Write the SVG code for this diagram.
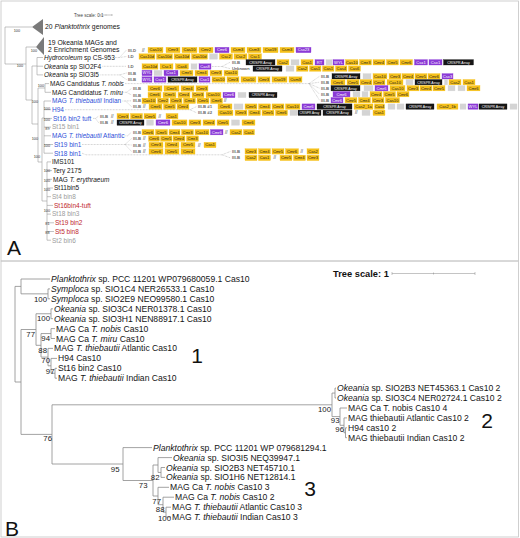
<svg xmlns="http://www.w3.org/2000/svg" width="520" height="538" viewBox="0 0 520 538">
<style>
text{font-family:"Liberation Sans",Arial,sans-serif}
.fr{fill:none;stroke:#c4c4c4;stroke-width:0.8}
.tr{fill:none;stroke:#9a9a9a;stroke-width:0.6}
.tb{fill:none;stroke:#8c8c8c;stroke-width:0.8}
.dt{fill:none;stroke:#9a9a9a;stroke-width:0.5;stroke-dasharray:0.8 0.7}
.sc{fill:none;stroke:#888;stroke-width:0.5}
.tri{fill:#7a7a7a}
.la{font-size:6.5px;fill:#151515}
.bl{fill:#2e4fd8}
.rd{fill:#c0272d}
.gr{fill:#9b9b9b}
.it{font-style:italic}
.bs{font-size:3.8px;fill:#333;text-anchor:end}
.y{fill:#f5c01a;stroke:#f5c01a;stroke-width:0.3}
.p{fill:#8b3ad6;stroke:#8b3ad6;stroke-width:0.3}
.k{fill:#161616;stroke:#161616;stroke-width:0.3}
.g{fill:#d4d4d4;stroke:#d4d4d4;stroke-width:0.3}
.gt{font-size:4.1px;fill:#1a1a1a;text-anchor:middle}
.wt{font-size:4.1px;fill:#fff;text-anchor:middle}
.ct{font-size:3.5px;fill:#fff;text-anchor:middle}
.cs{font-size:3.1px;fill:#fff;text-anchor:middle}
.tg{font-size:4.3px;fill:#6a6a6a;font-weight:bold}
.sl{font-size:4.5px;fill:#333}
.lb{font-size:8.6px;fill:#151515}
.bb{font-size:7.8px;fill:#222;text-anchor:end}
.big{font-size:21px;fill:#111}
</style>
<rect width="520" height="538" fill="#fff"/>
<rect class="fr" x="1" y="1" width="517.5" height="260"/>
<rect class="fr" x="1" y="261" width="517.5" height="276"/>

<g id="connectors">
<path class="tr" d="M5,27H32M5,27V64H26M26,47V100M26,47H36M26,100H32M32,66V124M32,66H37M37,57.5V74.9M37,57.5H43M37,66.2H43M37,74.9H43M32,124H38M38,88V162M38,88H45M45,83.6V92.3M45,83.6H49M45,92.3H51M38,162H42M42,118V201M42,118H44M44,101V153.2M44,101H51M44,109.7H51M44,118.4H52M44,127.1H51M44,135.8H51M44,144.5H53M44,153.2H53M42,201H47M47,161.9V240.2M47,161.9H51M47,170.6H52M47,179.3H52M47,188H53M47,196.7H51M47,205.4H53M47,214.1H51M47,222.8H54M47,231.5H54M47,240.2H51"/>
<path class="dt" d="M115,57.5H119.5L126.5,50M119.5,57.5L126.5,56.5M102.5,66.3H126.5M212,66.5H222L230,62.3M222,66.5L230,68.6M100.5,74.9H119.5L126.5,73M119.5,74.9L126.5,79.5M125,83.6H309L319.5,76.3M309,83.6L319.5,82.2M309,83.6L319.5,88.2M309,83.6L319.5,94.2M309,83.6L319.5,100.2M123.5,92.3H126.5L131.5,88.5M126.5,92.3L131.5,95M122.5,101H125.5L131.5,100.8M125.5,101L131.5,106.6M65,109.7H190L196.5,106.6M190,109.7L196.5,112.8M93,118.4H95.5L98.5,116.2M95.5,118.4L98.5,122.6M125.5,135.8H127.5L131.5,132.2M82,144.5H125L131.5,138.6M125,144.5L131.5,145M125,144.5L131.5,151.4M82,153.2L86,154.8H222L230.5,151.4M222,154.8L230.5,157.9"/>
<path class="tb" d="M15,286.4V382M15,286.4H21M21,279V293.85M21,279H50M21,293.85H48M48,288.9V298.8M48,288.9H50M48,298.8H50M15,382H21M21,329.5V434.4M21,329.5H36M36,313.75V345.3M36,313.75H51M51,308.8V318.7M51,308.8H53M51,318.7H53M36,345.3H41M41,333.55V357.1M41,333.55H51M51,328.6V338.5M51,328.6H55M51,338.5H55M41,357.1H48M48,348.4V365.8M48,348.4H53M48,365.8H51M51,358.4V373.25M51,358.4H57M51,373.25H55M55,368.3V378.2M55,368.3H57M55,378.2H57M21,434.4H52M52,404.8V464M52,404.8H332M332,393.05V416.6M332,393.05H335M335,388.1V398M335,388.1H336M335,398H336M332,416.6H340M340,408V425.3M340,408H347M340,425.3H344M344,417.9V432.75M344,417.9H347M344,432.75H345.5M345.5,427.8V437.7M345.5,427.8H347M345.5,437.7H347M52,464H123M123,447.6V480.5M123,447.6H152M123,480.5H153M153,465V496M153,465H158M158,457.6V472.45M158,457.6H172M158,472.45H161M161,467.5V477.4M161,467.5H165M161,477.4H165M153,496H158M158,487.3V504.7M158,487.3H169M158,504.7H163M163,497.2V512.15M163,497.2H174M163,512.15H166M166,507.2V517.1M166,507.2H171M166,517.1H171"/>
</g>

<g id="panel-a-scale">
<text x="74" y="16.5" style="font-size:4.5px;fill:#444">Tree scale: 0.1</text>
<path class="sc" d="M100,15H112M100,14V16M106,14.5V15.5M112,14V16"/>
</g>
<g id="bootstrap-a">
<text class="bs" x="20" y="31.5">100</text><text class="bs" x="37" y="51.5">100</text><text class="bs" x="23" y="67">100</text><text class="bs" x="44" y="87">100</text><text class="bs" x="38" y="102.5">100</text><text class="bs" x="50" y="109.5">100</text><text class="bs" x="50" y="120.5">100</text><text class="bs" x="49.5" y="129.5">89</text><text class="bs" x="38" y="139.5">100</text><text class="bs" x="50" y="146.5">100</text><text class="bs" x="40" y="157.5">100</text><text class="bs" x="50" y="171.5">100</text><text class="bs" x="50" y="181.5">100</text><text class="bs" x="50" y="190.5">100</text><text class="bs" x="50" y="211.5">100</text><text class="bs" x="49.5" y="224.5">81</text><text class="bs" x="49.5" y="233.5">88</text>
</g>

<g id="n-planktothrix-genomes"><polygon class="tri" points="32,27 43,19 43,35"/><text class="la" x="45" y="29.3" style="font-size:6.8px">20 <tspan class="it">Planktothrix</tspan> genomes</text></g>
<g id="n-okeania-mags"><polygon class="tri" points="36,47 44,37 44,55"/><text class="la" x="48" y="45.3" style="font-size:6.8px">19 Okeania MAGs and</text><text class="la" x="48" y="51.8" style="font-size:6.8px">2 Enrichment Genomes</text></g>

<g id="n-hydrocoleum">
<text class="la" x="44" y="59.8"><tspan class="it">Hydrocoleum</tspan> sp CS-953</text>
<text class="tg" x="128" y="51.5">III-D</text><text class="sl" x="142" y="51.5">//</text>
<rect class="y" x="148" y="47.3" width="15" height="5.4"/><text class="gt" x="155.5" y="51.4">Cas10</text>
<rect class="y" x="166" y="47.3" width="14" height="5.4"/><text class="gt" x="173" y="51.4">Cmr3</text>
<rect class="y" x="182" y="47.3" width="15" height="5.4"/><text class="gt" x="189.5" y="51.4">Cas10</text>
<rect class="y" x="199" y="47.3" width="14" height="5.4"/><text class="gt" x="206" y="51.4">Cmr2</text>
<rect class="p" x="215" y="47.3" width="14" height="5.4"/><text class="wt" x="222" y="51.4">Cmr6</text>
<rect class="y" x="231" y="47.3" width="14" height="5.4"/><text class="gt" x="238" y="51.4">Csm3</text>
<rect class="y" x="247" y="47.3" width="14" height="5.4"/><text class="gt" x="254" y="51.4">Csm3</text>
<rect class="y" x="263" y="47.3" width="15" height="5.4"/><text class="gt" x="270.5" y="51.4">Csx19</text>
<rect class="y" x="280" y="47.3" width="14" height="5.4"/><text class="gt" x="287" y="51.4">Csm3</text>
<rect class="p" x="296" y="47.3" width="15" height="5.4"/><text class="wt" x="303.5" y="51.4">Csx23</text>
<text class="tg" x="128" y="58">I-D</text>
<rect class="y" x="139" y="53.8" width="16" height="5.4"/><text class="gt" x="147" y="57.9">Cas10d</text>
<rect class="y" x="156.5" y="53.8" width="16" height="5.4"/><text class="gt" x="164.5" y="57.9">Cas10d</text>
<rect class="y" x="174" y="53.8" width="16" height="5.4"/><text class="gt" x="182" y="57.9">Cas10d</text>
<rect class="y" x="191.5" y="53.8" width="16" height="5.4"/><text class="gt" x="199.5" y="57.9">Cas10d</text>
<rect class="g" x="209.5" y="53.8" width="8" height="5.4"/>
<rect class="y" x="219.5" y="53.8" width="13" height="5.4"/><text class="gt" x="226" y="57.9">Csc2</text>
<rect class="y" x="234" y="53.8" width="13" height="5.4"/><text class="gt" x="240.5" y="57.9">Csc2</text>
<rect class="y" x="248.5" y="53.8" width="13" height="5.4"/><text class="gt" x="255" y="57.9">Csc1</text>
</g>

<g id="n-okeania-sio2f4">
<text class="la" x="44" y="68.5"><tspan class="it">Okeania</tspan> sp SIO2F4</text>
<text class="tg" x="128" y="68">I-D</text>
<rect class="y" x="142" y="63.8" width="16" height="5.4"/><text class="gt" x="150" y="67.9">Cas10d</text>
<rect class="y" x="160" y="63.8" width="13" height="5.4"/><text class="gt" x="166.5" y="67.9">Csc1</text>
<rect class="y" x="175.5" y="63.8" width="13" height="5.4"/><text class="gt" x="182" y="67.9">Cas6</text>
<rect class="g" x="191" y="63.8" width="6" height="5.4"/>
<rect class="p" x="199" y="63.8" width="12" height="5.4"/><text class="wt" x="205" y="67.9">Cas8</text>
<text class="tg" x="232" y="63.8">III-B</text>
<rect class="k" x="246" y="59.6" width="29" height="5.4"/><text class="ct" x="260.5" y="63.6">CRISPR Array</text>
<rect class="y" x="277" y="59.6" width="12" height="5.4"/><text class="gt" x="283" y="63.7">Cas2</text>
<rect class="g" x="291" y="59.6" width="8" height="5.4"/>
<rect class="y" x="301" y="59.6" width="12" height="5.4"/><text class="gt" x="307" y="63.7">Cas1</text>
<rect class="p" x="315" y="59.6" width="9" height="5.4"/><text class="wt" x="319.5" y="63.7">RT</text>
<rect class="g" x="326" y="59.6" width="6" height="5.4"/>
<rect class="p" x="333" y="59.6" width="11" height="5.4"/><text class="wt" x="338.5" y="63.7">WYL</text>
<rect class="y" x="345.5" y="59.6" width="12.5" height="5.4"/><text class="gt" x="351.75" y="63.7">Cas10</text>
<rect class="y" x="359.5" y="59.6" width="12" height="5.4"/><text class="gt" x="365.5" y="63.7">Cmr3</text>
<rect class="y" x="373" y="59.6" width="12" height="5.4"/><text class="gt" x="379" y="63.7">Cmr4</text>
<rect class="y" x="386.5" y="59.6" width="12" height="5.4"/><text class="gt" x="392.5" y="63.7">Cmr5</text>
<rect class="y" x="400" y="59.6" width="12.5" height="5.4"/><text class="gt" x="406.25" y="63.7">Cmr6</text>
<rect class="p" x="414.5" y="59.6" width="13" height="5.4"/><text class="wt" x="421" y="63.7">Csx1</text>
<rect class="p" x="429" y="59.6" width="13" height="5.4"/><text class="wt" x="435.5" y="63.7">Csx1</text>
<rect class="k" x="443.5" y="59.6" width="30" height="5.4"/><text class="ct" x="458.5" y="63.6">CRISPR Array</text>
<text x="232" y="70.1" style="font-size:4.2px;fill:#222">Unknown</text>
<rect class="k" x="253" y="65.9" width="29" height="5.4"/><text class="ct" x="267.5" y="69.9">CRISPR Array</text>
<rect class="g" x="286" y="65.9" width="8" height="5.4"/>
<rect class="y" x="296.5" y="65.9" width="11.5" height="5.4"/><text class="gt" x="302.25" y="70">Cas2</text>
<rect class="y" x="309.5" y="65.9" width="11.5" height="5.4"/><text class="gt" x="315.25" y="70">Cas1</text>
<rect class="y" x="322.5" y="65.9" width="11.5" height="5.4"/><text class="gt" x="328.25" y="70">Cas1</text>
<rect class="y" x="335.5" y="65.9" width="11.5" height="5.4"/><text class="gt" x="341.25" y="70">Cas4</text>
<rect class="y" x="348.5" y="65.9" width="12" height="5.4"/><text class="gt" x="354.5" y="70">Cas6</text>
</g>

<g id="n-okeania-sio3i5">
<text class="la" x="44" y="77.2"><tspan class="it">Okeania</tspan> sp SIO3I5</text>
<text class="tg" x="128" y="74.5">III-B</text>
<rect class="p" x="142" y="70.3" width="10" height="5.4"/><text class="wt" x="147" y="74.4">WYL</text>
<rect class="g" x="154" y="70.3" width="8" height="5.4"/>
<rect class="p" x="164" y="70.3" width="14" height="5.4"/><text class="wt" x="171" y="74.4">Csx1</text>
<rect class="y" x="180" y="70.3" width="13" height="5.4"/><text class="gt" x="186.5" y="74.4">Cmr5</text>
<rect class="y" x="195" y="70.3" width="13" height="5.4"/><text class="gt" x="201.5" y="74.4">Cmr4</text>
<rect class="y" x="210" y="70.3" width="12" height="5.4"/><text class="gt" x="216" y="74.4">Cmr3</text>
<rect class="y" x="224" y="70.3" width="14" height="5.4"/><text class="gt" x="231" y="74.4">Cas10</text>
<text class="tg" x="128" y="81">III-B</text>
<rect class="p" x="142" y="76.8" width="10" height="5.4"/><text class="wt" x="147" y="80.9">WYL</text>
<rect class="p" x="154" y="76.8" width="12" height="5.4"/><text class="wt" x="160" y="80.9">Csx1</text>
<rect class="k" x="168" y="76.8" width="29" height="5.4"/><text class="ct" x="182.5" y="80.8">CRISPR Array</text>
<rect class="p" x="199" y="76.8" width="11" height="5.4"/><text class="wt" x="204.5" y="80.9">Csx1</text>
<rect class="y" x="212" y="76.8" width="13" height="5.4"/><text class="gt" x="218.5" y="80.9">Cas10</text>
<rect class="y" x="227" y="76.8" width="12" height="5.4"/><text class="gt" x="233" y="80.9">Cmr3</text>
<rect class="y" x="241" y="76.8" width="15" height="5.4"/><text class="gt" x="248.5" y="80.9">Csx10</text>
<rect class="y" x="258" y="76.8" width="12" height="5.4"/><text class="gt" x="264" y="80.9">Cmr3</text>
<rect class="y" x="272" y="76.8" width="15" height="5.4"/><text class="gt" x="279.5" y="80.9">Csx19</text>
<rect class="y" x="289" y="76.8" width="13" height="5.4"/><text class="gt" x="295.5" y="80.9">Csm3</text>
</g>

<g id="n-nobis">
<text class="la" x="50" y="85.9">MAG Candidatus <tspan class="it">T. nobis</tspan></text>
<text class="tg" x="321" y="77.8">III-B</text>
<rect class="k" x="332" y="73.6" width="28" height="5.4"/><text class="ct" x="346" y="77.6">CRISPR Array</text>
<rect class="g" x="363" y="73.6" width="8" height="5.4"/>
<rect class="y" x="373" y="73.6" width="14" height="5.4"/><text class="gt" x="380" y="77.7">Cas10</text>
<rect class="y" x="389" y="73.6" width="12" height="5.4"/><text class="gt" x="395" y="77.7">Cmr3</text>
<rect class="y" x="402" y="73.6" width="12" height="5.4"/><text class="gt" x="408" y="77.7">Cmr4</text>
<rect class="y" x="415" y="73.6" width="12" height="5.4"/><text class="gt" x="421" y="77.7">Cmr5</text>
<rect class="y" x="428" y="73.6" width="12" height="5.4"/><text class="gt" x="434" y="77.7">Cmr6</text>
<rect class="p" x="442" y="73.6" width="11" height="5.4"/><text class="wt" x="447.5" y="77.7">Csx3</text>
<text class="tg" x="321" y="83.7">III-B</text>
<rect class="y" x="331" y="79.5" width="14" height="5.4"/><text class="gt" x="338" y="83.6">Cmr6</text>
<rect class="y" x="347" y="79.5" width="12" height="5.4"/><text class="gt" x="353" y="83.6">Cmr5</text>
<rect class="y" x="360" y="79.5" width="12" height="5.4"/><text class="gt" x="366" y="83.6">Cmr4</text>
<rect class="y" x="373" y="79.5" width="12" height="5.4"/><text class="gt" x="379" y="83.6">Cmr3</text>
<rect class="y" x="387" y="79.5" width="16" height="5.4"/><text class="gt" x="395" y="83.6">Cas10</text>
<rect class="g" x="406" y="79.5" width="7" height="5.4"/>
<rect class="k" x="415" y="79.5" width="27" height="5.4"/><text class="ct" x="428.5" y="83.5">CRISPR Array</text>
<rect class="g" x="444.5" y="79.5" width="3" height="5.4"/>
<rect class="y" x="449" y="79.5" width="12" height="5.4"/><text class="gt" x="455" y="83.6">Cas2</text>
<rect class="y" x="463" y="79.5" width="12" height="5.4"/><text class="gt" x="469" y="83.6">Cas1</text>
<text class="tg" x="321" y="89.7">III-B</text>
<rect class="k" x="331" y="85.5" width="29" height="5.4"/><text class="ct" x="345.5" y="89.5">CRISPR Array</text>
<rect class="g" x="364" y="85.5" width="9" height="5.4"/>
<rect class="p" x="375" y="85.5" width="13" height="5.4"/><text class="wt" x="381.5" y="89.6">Cmr6</text>
<rect class="y" x="390" y="85.5" width="15" height="5.4"/><text class="gt" x="397.5" y="89.6">Cas10</text>
<rect class="y" x="407" y="85.5" width="12" height="5.4"/><text class="gt" x="413" y="89.6">Cmr3</text>
<rect class="y" x="420" y="85.5" width="12" height="5.4"/><text class="gt" x="426" y="89.6">Cmr4</text>
<rect class="y" x="433" y="85.5" width="12" height="5.4"/><text class="gt" x="439" y="89.6">Cmr5</text>
<rect class="g" x="448" y="85.5" width="7" height="5.4"/>
<rect class="g" x="458" y="85.5" width="7" height="5.4"/>
<rect class="y" x="467" y="85.5" width="13" height="5.4"/><text class="gt" x="473.5" y="89.6">Cmr6</text>
<text class="tg" x="321" y="95.7">III-B</text>
<rect class="p" x="333" y="91.5" width="17" height="5.4"/><text class="wt" x="341.5" y="95.6">Cmr6</text>
<rect class="g" x="353" y="91.5" width="7" height="5.4"/>
<rect class="g" x="362" y="91.5" width="6" height="5.4"/>
<rect class="y" x="370" y="91.5" width="12" height="5.4"/><text class="gt" x="376" y="95.6">Cmr4</text>
<rect class="y" x="383.5" y="91.5" width="12" height="5.4"/><text class="gt" x="389.5" y="95.6">Cmr5</text>
<rect class="y" x="397" y="91.5" width="12" height="5.4"/><text class="gt" x="403" y="95.6">Cmr6</text>
<text class="tg" x="321" y="101.7">III-B</text>
<rect class="p" x="331" y="97.5" width="12" height="5.4"/><text class="wt" x="337" y="101.6">Cmr6</text>
<rect class="y" x="345" y="97.5" width="12" height="5.4"/><text class="gt" x="351" y="101.6">Cmr5</text>
<rect class="y" x="358.5" y="97.5" width="12" height="5.4"/><text class="gt" x="364.5" y="101.6">Cmr4</text>
<rect class="y" x="372" y="97.5" width="12" height="5.4"/><text class="gt" x="378" y="101.6">Cmr3</text>
<rect class="y" x="385.5" y="97.5" width="14" height="5.4"/><text class="gt" x="392.5" y="101.6">Cas10</text>
</g>

<g id="n-miru">
<text class="la" x="52" y="94.6">MAG Candidatus <tspan class="it">T. miru</tspan></text>
<text class="tg" x="133" y="90">III-B</text>
<rect class="y" x="148" y="85.8" width="14" height="5.4"/><text class="gt" x="155" y="89.9">Cmr6</text>
<rect class="y" x="164" y="85.8" width="15" height="5.4"/><text class="gt" x="171.5" y="89.9">Cmr5</text>
<rect class="y" x="181" y="85.8" width="13" height="5.4"/><text class="gt" x="187.5" y="89.9">Cmr4</text>
<rect class="y" x="196" y="85.8" width="12" height="5.4"/><text class="gt" x="202" y="89.9">Cmr3</text>
<text class="tg" x="133" y="96.5">III-B</text>
<rect class="y" x="148" y="92.3" width="13" height="5.4"/><text class="gt" x="154.5" y="96.4">Cmr6</text>
<rect class="y" x="163" y="92.3" width="13" height="5.4"/><text class="gt" x="169.5" y="96.4">Cmr5</text>
<rect class="y" x="178" y="92.3" width="12" height="5.4"/><text class="gt" x="184" y="96.4">Cmr4</text>
<rect class="y" x="192" y="92.3" width="12" height="5.4"/><text class="gt" x="198" y="96.4">Cmr3</text>
<rect class="y" x="206" y="92.3" width="15" height="5.4"/><text class="gt" x="213.5" y="96.4">Cas10</text>
<rect class="p" x="223" y="92.3" width="12" height="5.4"/><text class="wt" x="229" y="96.4">Cmr6</text>
<rect class="g" x="238" y="92.3" width="8" height="5.4"/>
<rect class="k" x="249" y="92.3" width="28" height="5.4"/><text class="ct" x="263" y="96.3">CRISPR Array</text>
</g>

<g id="n-thiebautii-indian">
<text class="la bl" x="52" y="103.3">MAG <tspan class="it">T. thiebautii</tspan> Indian</text>
<text class="tg" x="133" y="102.3">III-B</text>
<rect class="y" x="142" y="98.1" width="14" height="5.4"/><text class="gt" x="149" y="102.2">Cas10</text>
<rect class="y" x="157.5" y="98.1" width="11" height="5.4"/><text class="gt" x="163" y="102.2">Cmr2</text>
<rect class="y" x="170" y="98.1" width="12" height="5.4"/><text class="gt" x="176" y="102.2">Cmr3</text>
<rect class="y" x="183.5" y="98.1" width="12" height="5.4"/><text class="gt" x="189.5" y="102.2">Cmr4</text>
<rect class="y" x="197" y="98.1" width="12" height="5.4"/><text class="gt" x="203" y="102.2">Cmr5</text>
<rect class="y" x="210.5" y="98.1" width="12" height="5.4"/><text class="gt" x="216.5" y="102.2">Cmr6</text>
<text class="sl" x="224" y="102.3">//</text>
<text class="tg" x="133" y="108.1">III-B</text><text class="sl" x="143" y="108.1">//</text>
<rect class="y" x="149" y="103.9" width="13" height="5.4"/><text class="gt" x="155.5" y="108">Cmr6</text>
<rect class="y" x="163.5" y="103.9" width="12" height="5.4"/><text class="gt" x="169.5" y="108">Cmr5</text>
<rect class="y" x="177" y="103.9" width="12" height="5.4"/><text class="gt" x="183" y="108">Cmr4</text>
</g>

<g id="n-h94">
<text class="la bl" x="52" y="112">H94</text>
<text class="tg" x="198" y="108.1">III-B #1</text>
<rect class="y" x="218" y="103.9" width="14" height="5.4"/><text class="gt" x="225" y="108">Cmr6</text>
<rect class="g" x="234" y="103.9" width="9" height="5.4"/>
<rect class="y" x="245" y="103.9" width="12" height="5.4"/><text class="gt" x="251" y="108">Cmr5</text>
<rect class="y" x="258.5" y="103.9" width="12" height="5.4"/><text class="gt" x="264.5" y="108">Cmr4</text>
<rect class="y" x="272" y="103.9" width="12" height="5.4"/><text class="gt" x="278" y="108">Cmr3</text>
<rect class="y" x="285.5" y="103.9" width="14.5" height="5.4"/><text class="gt" x="292.75" y="108">Cas10</text>
<rect class="p" x="302" y="103.9" width="13" height="5.4"/><text class="wt" x="308.5" y="108">Cmr6</text>
<rect class="k" x="317" y="103.9" width="35" height="5.4"/><text class="ct" x="334.5" y="107.9">CRISPR Array</text>
<rect class="y" x="354" y="103.9" width="19" height="5.4"/><text class="gt" x="363.5" y="108">Cas2_1a</text>
<rect class="y" x="374.5" y="103.9" width="10" height="5.4"/><text class="gt" x="379.5" y="108">Cas4</text>
<rect class="g" x="388" y="103.9" width="7" height="5.4"/>
<rect class="g" x="397" y="103.9" width="7" height="5.4"/>
<rect class="k" x="406" y="103.9" width="28" height="5.4"/><text class="ct" x="420" y="107.9">CRISPR Array</text>
<rect class="y" x="437" y="103.9" width="21" height="5.4"/><text class="gt" x="447.5" y="108">Cas2_1b</text>
<rect class="g" x="460" y="103.9" width="6" height="5.4"/>
<rect class="p" x="468" y="103.9" width="10" height="5.4"/><text class="wt" x="473" y="108">WYL</text>
<rect class="k" x="479" y="103.9" width="28" height="5.4"/><text class="ct" x="493" y="107.9">CRISPR Array</text>
<rect class="g" x="510" y="103.9" width="7" height="5.4"/>
<text class="tg" x="198" y="114.3">III-B #2</text>
<rect class="y" x="218" y="110.1" width="15" height="5.4"/><text class="gt" x="225.5" y="114.2">Cas10</text>
<rect class="y" x="235" y="110.1" width="12" height="5.4"/><text class="gt" x="241" y="114.2">Cmr3</text>
<rect class="y" x="248.5" y="110.1" width="12" height="5.4"/><text class="gt" x="254.5" y="114.2">Cmr4</text>
<rect class="y" x="262" y="110.1" width="12" height="5.4"/><text class="gt" x="268" y="114.2">Cmr5</text>
<rect class="y" x="275.5" y="110.1" width="12" height="5.4"/><text class="gt" x="281.5" y="114.2">Cmr6</text>
<rect class="g" x="290" y="110.1" width="7" height="5.4"/>
<rect class="k" x="298" y="110.1" width="23" height="5.4"/><text class="cs" x="309.5" y="114">CRISPR Array</text>
<rect class="k" x="323" y="110.1" width="29" height="5.4"/><text class="ct" x="337.5" y="114.1">CRISPR Array</text>
<text class="sl" x="355" y="114.3">//</text>
<rect class="g" x="362" y="110.1" width="8" height="5.4"/>
<rect class="y" x="373" y="110.1" width="12" height="5.4"/><text class="gt" x="379" y="114.2">Cas1</text>
</g>

<g id="n-st16-bin2-tuft">
<text class="la bl" x="53" y="120.7">St16 bin2 tuft</text>
<text class="tg" x="100" y="117.7">III-B</text><text class="sl" x="111" y="117.7">//</text>
<rect class="y" x="117" y="113.5" width="12" height="5.4"/><text class="gt" x="123" y="117.6">Cmr3</text>
<rect class="y" x="130.5" y="113.5" width="12" height="5.4"/><text class="gt" x="136.5" y="117.6">Cmr4</text>
<rect class="y" x="144" y="113.5" width="12" height="5.4"/><text class="gt" x="150" y="117.6">Cmr5</text>
<text class="sl" x="158.5" y="117.7">//</text>
<rect class="y" x="166" y="113.5" width="12" height="5.4"/><text class="gt" x="172" y="117.6">Cas1</text>
<text class="tg" x="100" y="124.1">III-B</text><text class="sl" x="111" y="124.1">//</text>
<rect class="k" x="117" y="119.9" width="27" height="5.4"/><text class="ct" x="130.5" y="123.9">CRISPR Array</text>
<rect class="g" x="146.5" y="119.9" width="7" height="5.4"/>
<rect class="p" x="156" y="119.9" width="14" height="5.4"/><text class="wt" x="163" y="124">Cmr6</text>
<rect class="y" x="172" y="119.9" width="15" height="5.4"/><text class="gt" x="179.5" y="124">Cas10</text>
<rect class="y" x="189" y="119.9" width="12" height="5.4"/><text class="gt" x="195" y="124">Cmr3</text>
<rect class="y" x="203" y="119.9" width="12" height="5.4"/><text class="gt" x="209" y="124">Cmr4</text>
<rect class="y" x="217" y="119.9" width="12" height="5.4"/><text class="gt" x="223" y="124">Cmr5</text>
<rect class="g" x="231.5" y="119.9" width="8" height="5.4"/>
<rect class="y" x="242" y="119.9" width="13" height="5.4"/><text class="gt" x="248.5" y="124">Cmr6</text>
</g>

<g id="n-st15-bin1"><text class="la gr" x="52" y="129.4">St15 bin1</text></g>

<g id="n-thiebautii-atlantic">
<text class="la bl" x="52" y="138.1">MAG <tspan class="it">T. thiebautii</tspan> Atlantic</text>
<text class="tg" x="133" y="133.7">III-B</text>
<rect class="y" x="142" y="129.5" width="12" height="5.4"/><text class="gt" x="148" y="133.6">Cmr6</text>
<rect class="y" x="155.5" y="129.5" width="12" height="5.4"/><text class="gt" x="161.5" y="133.6">Cmr5</text>
<rect class="y" x="169" y="129.5" width="11" height="5.4"/><text class="gt" x="174.5" y="133.6">Cmr4</text>
<rect class="y" x="181.5" y="129.5" width="12" height="5.4"/><text class="gt" x="187.5" y="133.6">Cmr3</text>
<rect class="y" x="195" y="129.5" width="14" height="5.4"/><text class="gt" x="202" y="133.6">Cas10</text>
<rect class="p" x="210.5" y="129.5" width="12.5" height="5.4"/><text class="wt" x="216.75" y="133.6">Cmr6</text>
<text class="sl" x="225" y="133.7">//</text>
<rect class="y" x="230" y="129.5" width="12" height="5.4"/><text class="gt" x="236" y="133.6">Cas2</text>
<rect class="y" x="243.5" y="129.5" width="11" height="5.4"/><text class="gt" x="249" y="133.6">Cas1</text>
</g>

<g id="n-st19-bin1">
<text class="la bl" x="54" y="146.8">St19 bin1</text>
<text class="tg" x="133" y="140.1">III-B</text><text class="sl" x="143" y="140.1">//</text>
<rect class="y" x="148.5" y="135.9" width="11" height="5.4"/><text class="gt" x="154" y="140">Cmr6</text>
<rect class="y" x="160.5" y="135.9" width="11.5" height="5.4"/><text class="gt" x="166.25" y="140">Cmr5</text>
<rect class="y" x="173" y="135.9" width="12" height="5.4"/><text class="gt" x="179" y="140">Cmr4</text>
<rect class="y" x="186.5" y="135.9" width="12" height="5.4"/><text class="gt" x="192.5" y="140">Cmr3</text>
<text class="tg" x="133" y="146.5">III-B</text><text class="sl" x="143" y="146.5">//</text>
<rect class="y" x="149" y="142.3" width="14" height="5.4"/><text class="gt" x="156" y="146.4">Cmr3</text>
<rect class="y" x="165" y="142.3" width="14" height="5.4"/><text class="gt" x="172" y="146.4">Cmr4</text>
<rect class="y" x="181" y="142.3" width="14" height="5.4"/><text class="gt" x="188" y="146.4">Cmr5</text>
<text class="sl" x="198" y="146.5">//</text>
<rect class="y" x="204" y="142.3" width="12" height="5.4"/><text class="gt" x="210" y="146.4">Cas1</text>
<text class="tg" x="133" y="152.9">III-B</text><text class="sl" x="143" y="152.9">//</text>
<rect class="y" x="149" y="148.7" width="14" height="5.4"/><text class="gt" x="156" y="152.8">Cmr6</text>
<rect class="y" x="165" y="148.7" width="14" height="5.4"/><text class="gt" x="172" y="152.8">Cmr5</text>
<rect class="y" x="181" y="148.7" width="14" height="5.4"/><text class="gt" x="188" y="152.8">Cmr4</text>
</g>

<g id="n-st18-bin1">
<text class="la bl" x="54" y="155.5">St18 bin1</text>
<text class="tg" x="232" y="152.9">III-B</text>
<rect class="y" x="245" y="148.7" width="12" height="5.4"/><text class="gt" x="251" y="152.8">Cmr3</text>
<rect class="y" x="258.5" y="148.7" width="12" height="5.4"/><text class="gt" x="264.5" y="152.8">Cmr4</text>
<rect class="y" x="272" y="148.7" width="12" height="5.4"/><text class="gt" x="278" y="152.8">Cmr5</text>
<rect class="y" x="285.5" y="148.7" width="13" height="5.4"/><text class="gt" x="292" y="152.8">Cmr6</text>
<text class="sl" x="300.5" y="152.9">//</text>
<rect class="y" x="307" y="148.7" width="12" height="5.4"/><text class="gt" x="313" y="152.8">Cas2</text>
<text class="tg" x="232" y="159.4">III-B</text>
<rect class="y" x="245" y="155.2" width="12" height="5.4"/><text class="gt" x="251" y="159.3">Cas2</text>
<rect class="y" x="258.5" y="155.2" width="12" height="5.4"/><text class="gt" x="264.5" y="159.3">Cas1</text>
<text class="sl" x="273.5" y="159.4">//</text>
<rect class="y" x="280" y="155.2" width="12" height="5.4"/><text class="gt" x="286" y="159.3">Cmr5</text>
<rect class="y" x="293.5" y="155.2" width="12" height="5.4"/><text class="gt" x="299.5" y="159.3">Cmr4</text>
<rect class="y" x="307" y="155.2" width="12" height="5.4"/><text class="gt" x="313" y="159.3">Cmr3</text>
</g>

<g id="n-ims101"><text class="la" x="52" y="164.2">IMS101</text></g>
<g id="n-tery2175"><text class="la" x="53" y="172.9">Tery 2175</text></g>
<g id="n-erythraeum"><text class="la" x="53" y="181.6">MAG <tspan class="it">T. erythraeum</tspan></text></g>
<g id="n-st11bin5"><text class="la" x="54" y="190.3">St11bin5</text></g>
<g id="n-st4-bin8"><text class="la gr" x="52" y="199">St4 bin8</text></g>
<g id="n-st16bin4-tuft"><text class="la rd" x="54" y="207.7">St16bin4-tuft</text></g>
<g id="n-st18-bin3"><text class="la gr" x="52" y="216.4">St18 bin3</text></g>
<g id="n-st19-bin2"><text class="la rd" x="55" y="225.1">St19 bin2</text></g>
<g id="n-st5-bin8"><text class="la rd" x="55" y="233.8">St5 bin8</text></g>
<g id="n-st2-bin6"><text class="la gr" x="52" y="242.5">St2 bin6</text></g>

<text class="big" x="7" y="255">A</text>

<g id="panel-b-scale">
<text x="333" y="276.6" style="font-size:9.3px;font-weight:bold;fill:#111">Tree scale: 1</text>
<path class="sc" d="M392,273.5H475M392,272V275M433.5,272.5V274.5M475,272V275"/>
</g>

<g id="bootstrap-b">
<text class="bb" x="47" y="302">100</text><text class="bb" x="50" y="321">100</text><text class="bb" x="35" y="337">77</text><text class="bb" x="50" y="341">94</text><text class="bb" x="47" y="352.5">88</text><text class="bb" x="50" y="362.5">70</text><text class="bb" x="54.5" y="373.5">97</text><text class="bb" x="52" y="441">76</text><text class="bb" x="331" y="412">100</text><text class="bb" x="339.5" y="423">93</text><text class="bb" x="344" y="432">96</text><text class="bb" x="119.5" y="471.5">95</text><text class="bb" x="147.5" y="488">73</text><text class="bb" x="159.5" y="480">82</text><text class="bb" x="161" y="503.5">77</text><text class="bb" x="164.5" y="512">88</text><text class="bb" x="171" y="521">100</text>
</g>

<g xml:space="preserve">
<g id="b-planktothrix-1"><text class="lb" x="51" y="282"><tspan class="it">Planktothrix</tspan> sp. PCC 11201 WP079680059.1 Cas10</text></g>
<g id="b-symploca-sio1c4"><text class="lb" x="51" y="291.9"><tspan class="it">Symploca</tspan> sp. SIO1C4 NER26533.1  Cas10</text></g>
<g id="b-symploca-sio2e9"><text class="lb" x="51" y="301.8"><tspan class="it">Symploca</tspan> sp. SIO2E9 NEO99580.1  Cas10</text></g>
<g id="b-okeania-sio3c4"><text class="lb" x="54" y="311.8"><tspan class="it">Okeania</tspan> sp. SIO3C4 NER01378.1  Cas10</text></g>
<g id="b-okeania-sio3h1"><text class="lb" x="54" y="321.7"><tspan class="it">Okeania</tspan> sp. SIO3H1 NEN88917.1  Cas10</text></g>
<g id="b-nobis-1"><text class="lb" x="56" y="331.6">MAG Ca <tspan class="it">T. nobis</tspan>  Cas10</text></g>
<g id="b-miru-1"><text class="lb" x="56" y="341.5">MAG Ca <tspan class="it">T. miru</tspan>  Cas10</text></g>
<g id="b-atlantic-1"><text class="lb bl" x="54" y="351.4">MAG <tspan class="it">T. thiebautii</tspan> Atlantic  Cas10</text></g>
<g id="b-h94-1"><text class="lb bl" x="58" y="361.4">H94  Cas10</text></g>
<g id="b-st16-1"><text class="lb bl" x="58" y="371.3">St16 bin2 Cas10</text></g>
<g id="b-indian-1"><text class="lb bl" x="58" y="381.2">MAG <tspan class="it">T. thiebautii</tspan> Indian  Cas10</text></g>
<g id="b-okeania-sio2b3-2"><text class="lb" x="337" y="391.1"><tspan class="it">Okeania</tspan> sp. SIO2B3 NET45363.1  Cas10 2</text></g>
<g id="b-okeania-sio3c4-2"><text class="lb" x="337" y="401"><tspan class="it">Okeania</tspan> sp. SIO3C4 NER02724.1  Cas10 2</text></g>
<g id="b-nobis-4"><text class="lb" x="348" y="411">MAG Ca T. nobis Cas10  4</text></g>
<g id="b-atlantic-2"><text class="lb bl" x="348" y="420.9">MAG thiebautii Atlantic Cas10  2</text></g>
<g id="b-h94-2"><text class="lb bl" x="348" y="430.8">H94 cas10 2</text></g>
<g id="b-indian-2"><text class="lb bl" x="348" y="440.7">MAG thiebautii Indian Cas10  2</text></g>
<g id="b-planktothrix-3"><text class="lb" x="153" y="450.6"><tspan class="it">Planktothrix</tspan> sp. PCC 11201 WP 079681294.1</text></g>
<g id="b-okeania-sio3i5"><text class="lb" x="173" y="460.6"><tspan class="it">Okeania</tspan> sp. SIO3I5 NEQ39947.1</text></g>
<g id="b-okeania-sio2b3-3"><text class="lb" x="166" y="470.5"><tspan class="it">Okeania</tspan> sp. SIO2B3 NET45710.1</text></g>
<g id="b-okeania-sio1h6"><text class="lb" x="166" y="480.4"><tspan class="it">Okeania</tspan> sp. SIO1H6 NET12814.1</text></g>
<g id="b-nobis-3"><text class="lb" x="170" y="490.3">MAG Ca <tspan class="it">T. nobis</tspan>  Cas10  3</text></g>
<g id="b-nobis-2"><text class="lb" x="175" y="500.2">MAG Ca <tspan class="it">T. nobis</tspan>  Cas10  2</text></g>
<g id="b-atlantic-3"><text class="lb bl" x="172" y="510.2">MAG <tspan class="it">T. thiebautii</tspan> Atlantic  Cas10  3</text></g>
<g id="b-indian-3"><text class="lb bl" x="172" y="520.1">MAG <tspan class="it">T. thiebautii</tspan> Indian  Cas10  3</text></g>
</g>

<g id="clade-numbers">
<text class="big" x="197" y="362.5" text-anchor="middle">1</text>
<text class="big" x="487" y="428" text-anchor="middle">2</text>
<text class="big" x="310" y="496" text-anchor="middle">3</text>
</g>
<text class="big" x="5" y="535.5">B</text>
</svg>
